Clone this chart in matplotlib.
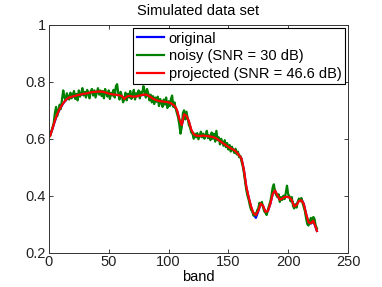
import numpy as np
import matplotlib
matplotlib.use("Agg")
import matplotlib.pyplot as plt

plt.rcParams['font.family'] = ['Liberation Sans', 'DejaVu Sans']

# bands for the smooth curves (every 2nd band plus the last)
bands_s = list(range(1, 224, 2)) + [224]
original = [
    0.612, 0.635, 0.662, 0.685, 0.703, 0.718, 0.730, 0.739, 0.744, 0.747,
    0.749, 0.751, 0.753, 0.755, 0.757, 0.758, 0.760, 0.762, 0.763, 0.764,
    0.765, 0.765, 0.764, 0.762, 0.760, 0.758, 0.756, 0.755, 0.754, 0.753,
    0.750, 0.738, 0.748, 0.751, 0.749, 0.748, 0.749, 0.751, 0.753, 0.754,
    0.754, 0.751, 0.746, 0.740, 0.736, 0.734, 0.732, 0.731, 0.730, 0.728,
    0.726, 0.720, 0.714, 0.700, 0.668, 0.645, 0.685, 0.680, 0.660, 0.630,
    0.615, 0.610, 0.609, 0.609, 0.610, 0.610, 0.609, 0.608, 0.606, 0.603,
    0.598, 0.592, 0.586, 0.580, 0.574, 0.569, 0.564, 0.560, 0.552, 0.542,
    0.530, 0.490, 0.430, 0.392, 0.360, 0.334, 0.322, 0.345, 0.372, 0.364,
    0.342, 0.345, 0.370, 0.405, 0.418, 0.400, 0.385, 0.390, 0.395, 0.396,
    0.394, 0.385, 0.362, 0.368, 0.386, 0.388, 0.372, 0.335, 0.305, 0.302,
    0.312, 0.288, 0.276,
]
projected = [
    0.610, 0.636, 0.664, 0.687, 0.705, 0.719, 0.731, 0.740, 0.745, 0.748,
    0.750, 0.752, 0.754, 0.756, 0.758, 0.759, 0.761, 0.763, 0.764, 0.765,
    0.766, 0.766, 0.765, 0.763, 0.760, 0.758, 0.756, 0.755, 0.754, 0.753,
    0.750, 0.740, 0.748, 0.751, 0.749, 0.748, 0.749, 0.751, 0.753, 0.755,
    0.755, 0.752, 0.747, 0.741, 0.737, 0.734, 0.732, 0.731, 0.730, 0.729,
    0.727, 0.722, 0.716, 0.702, 0.670, 0.648, 0.686, 0.681, 0.662, 0.632,
    0.616, 0.611, 0.610, 0.610, 0.611, 0.610, 0.609, 0.608, 0.606, 0.603,
    0.598, 0.592, 0.586, 0.580, 0.574, 0.569, 0.564, 0.560, 0.552, 0.542,
    0.530, 0.490, 0.432, 0.394, 0.362, 0.338, 0.332, 0.347, 0.372, 0.364,
    0.343, 0.346, 0.370, 0.405, 0.418, 0.401, 0.386, 0.390, 0.395, 0.396,
    0.394, 0.384, 0.362, 0.367, 0.381, 0.384, 0.371, 0.336, 0.306, 0.303,
    0.312, 0.289, 0.276,
]

bands = list(range(1, 225))
noisy = [
    0.610, 0.625, 0.640, 0.655, 0.690, 0.712, 0.680, 0.700, 0.720, 0.705, 0.740, 0.770, 0.745, 0.735, 0.760, 0.748,
    0.738, 0.762, 0.742, 0.755, 0.768, 0.740, 0.758, 0.735, 0.770, 0.748, 0.760, 0.778, 0.752, 0.765, 0.745, 0.772,
    0.758, 0.742, 0.768, 0.775, 0.752, 0.770, 0.745, 0.762, 0.778, 0.755, 0.770, 0.750, 0.768, 0.742, 0.775, 0.758,
    0.748, 0.770, 0.740, 0.762, 0.752, 0.772, 0.745, 0.785, 0.792, 0.760, 0.738, 0.765, 0.750, 0.728, 0.740, 0.762,
    0.735, 0.758, 0.745, 0.768, 0.740, 0.755, 0.772, 0.738, 0.760, 0.750, 0.770, 0.742, 0.765, 0.758, 0.785, 0.768,
    0.745, 0.775, 0.760, 0.735, 0.755, 0.728, 0.750, 0.722, 0.745, 0.730, 0.748, 0.715, 0.740, 0.725, 0.712, 0.738,
    0.720, 0.745, 0.708, 0.732, 0.715, 0.740, 0.752, 0.712, 0.728, 0.705, 0.690, 0.675, 0.650, 0.618, 0.640, 0.690,
    0.700, 0.668, 0.695, 0.672, 0.648, 0.640, 0.622, 0.618, 0.600, 0.618, 0.605, 0.620, 0.598, 0.612, 0.625, 0.605,
    0.618, 0.600, 0.615, 0.628, 0.602, 0.612, 0.595, 0.622, 0.600, 0.618, 0.590, 0.628, 0.595, 0.605, 0.580, 0.600,
    0.588, 0.575, 0.595, 0.570, 0.585, 0.562, 0.578, 0.555, 0.572, 0.560, 0.550, 0.565, 0.545, 0.555, 0.535, 0.540,
    0.520, 0.505, 0.480, 0.450, 0.420, 0.400, 0.385, 0.365, 0.350, 0.345, 0.330, 0.338, 0.330, 0.348, 0.355, 0.375,
    0.368, 0.378, 0.360, 0.345, 0.340, 0.332, 0.350, 0.365, 0.378, 0.400, 0.428, 0.440, 0.415, 0.402, 0.395, 0.405,
    0.378, 0.395, 0.385, 0.400, 0.388, 0.410, 0.435, 0.405, 0.398, 0.380, 0.395, 0.365, 0.355, 0.370, 0.358, 0.378,
    0.390, 0.380, 0.392, 0.375, 0.360, 0.345, 0.320, 0.300, 0.295, 0.310, 0.322, 0.305, 0.325, 0.318, 0.295, 0.285,
]

labels = ['original', 'noisy (SNR = 30 dB)', 'projected (SNR = 46.6 dB)']
xticks = [0, 50, 100, 150, 200, 250]
yticks = [0.2, 0.4, 0.6, 0.8, 1.0]
ytick_labels = ['0.2', '0.4', '0.6', '0.8', '1']

fig = plt.figure(figsize=(3.82, 2.87), dpi=100)
ax = fig.add_axes([0.128, 0.120, 0.783, 0.793])
ax.plot(bands_s, original, color='#0000ff', lw=1.6, label=labels[0])
ax.plot(bands, noisy, color='#008000', lw=1.6, label=labels[1])
ax.plot(bands_s, projected, color='#ff0000', lw=1.6, label=labels[2])

ax.set_xlim(0, 250)
ax.set_ylim(0.2, 1.0)
ax.set_xticks(xticks)
ax.set_yticks(yticks)
ax.set_yticklabels(ytick_labels)
ax.tick_params(direction='in', top=True, right=True, labelsize=10.5, length=3,
               width=0.6, pad=2, colors='#222222')
for s in ax.spines.values():
    s.set_linewidth(0.7)
    s.set_color('#333333')
ax.set_title('Simulated data set', fontsize=10.5, pad=7)
ax.set_xlabel('band', fontsize=10.5, labelpad=0.5)
leg = ax.legend(loc='upper right', fontsize=10.5, frameon=True, fancybox=False,
                framealpha=1, edgecolor='black', borderaxespad=0.2,
                handlelength=1.9, handletextpad=0.3, labelspacing=0.25,
                borderpad=0.25)
leg.get_frame().set_linewidth(0.8)

fig.savefig('out.png', dpi=100)
